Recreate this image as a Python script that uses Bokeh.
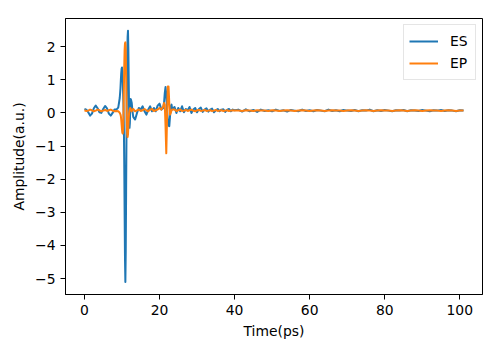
from bokeh.plotting import figure
from bokeh.models import ColumnDataSource, Range1d, FixedTicker, Legend, LegendItem
from bokeh.embed import file_html
from bokeh.resources import INLINE

# ---- data ----
time_ps = [
    0, 0.5, 1, 1.5, 2, 2.5, 3, 3.5, 4, 4.5, 5, 5.5, 6, 6.5, 7, 7.5, 8, 8.5, 9,
    9.2, 9.4,
    9.6, 9.7, 9.8, 9.9, 10.0, 10.1, 10.2, 10.3, 10.4, 10.5,
    10.6, 10.7, 10.8, 10.9, 11.0, 11.1, 11.2, 11.3, 11.4, 11.5,
    11.6, 11.7, 11.8, 11.9, 12.0, 12.1, 12.2, 12.3, 12.4,
    12.6, 12.8, 13.0,
    13.5, 14, 14.5, 15, 15.5, 16, 16.5, 17, 17.5, 18, 18.5, 19, 19.5, 20, 20.5, 21,
    21.2, 21.4, 21.6, 21.8, 22.0, 22.2, 22.4, 22.6, 22.8, 23.0, 23.2, 23.4,
    24, 24.5, 25, 25.5, 26, 26.5, 27, 27.5, 28, 28.5,
    29, 29.5, 30, 30.5, 31, 31.5, 32, 32.5, 33, 33.5,
    34, 34.5, 35, 35.5, 36, 36.5, 37, 37.5, 38, 38.5,
    39, 39.5, 40,
    41, 42, 43, 44, 45, 46, 47, 48, 49, 50,
    51, 52, 53, 54, 55, 56, 57, 58, 59, 60,
    61, 62, 63, 64, 65, 66, 67, 68, 69, 70,
    71, 72, 73, 74, 75, 76, 77, 78, 79, 80,
    81, 82, 83, 84, 85, 86, 87, 88, 89, 90,
    91, 92, 93, 94, 95, 96, 97, 98, 99, 100,
    101,
]

es_amp = [
    0.12, 0.10, 0.02, -0.08, -0.02, 0.14, 0.22, 0.14, 0.02, 0.00, 0.12, 0.21, 0.14, -0.02, -0.08, 0.00, 0.10, 0.10, 0.16,
    0.30, 0.45,
    0.75, 1.00, 1.20, 1.33, 1.37, 1.25, 1.00, 0.60, 0.20, -0.40,
    -1.50, -3.00, -4.40, -5.10, -4.20, -2.40, -0.60, 0.80, 1.80, 2.30,
    2.48, 1.90, 0.90, 0.00, -0.45, -0.30, 0.15, 0.42, 0.40,
    0.30, 0.05, -0.12,
    -0.20, 0.00, 0.15, 0.10, 0.20, 0.05, -0.05, 0.10, 0.20, 0.05, 0.15, 0.05, 0.22, 0.28, 0.10, 0.15,
    0.30, 0.60, 0.78, 0.55, 0.10, -0.20, -0.38, -0.40, -0.10, 0.20, 0.25, 0.10,
    0.18, 0.00, 0.15, 0.05, 0.20, 0.02, 0.12, 0.08, 0.18, 0.00,
    0.10, 0.15, 0.02, 0.12, 0.16, 0.03, 0.10, 0.14, 0.04, 0.10,
    0.13, 0.02, 0.08, 0.12, 0.05, 0.10, 0.11, 0.03, 0.09, 0.12,
    0.05, 0.10, 0.08,
    0.10, 0.04, 0.11, 0.05, 0.09, 0.03, 0.10, 0.06, 0.08, 0.05,
    0.10, 0.06, 0.08, 0.04, 0.09, 0.07, 0.05, 0.10, 0.06, 0.08,
    0.05, 0.09, 0.07, 0.05, 0.10, 0.06, 0.08, 0.05, 0.09, 0.07,
    0.06, 0.09, 0.05, 0.08, 0.07, 0.10, 0.05, 0.08, 0.06, 0.09,
    0.07, 0.05, 0.08, 0.07, 0.09, 0.05, 0.08, 0.07, 0.06, 0.09,
    0.07, 0.05, 0.08, 0.07, 0.09, 0.06, 0.08, 0.07, 0.05, 0.08,
    0.07,
]

ep_amp = [
    0.08, 0.06, 0.07, 0.10, 0.08, 0.05, 0.07, 0.10, 0.08, 0.05, 0.07, 0.09, 0.06, 0.08, 0.10, 0.07, 0.05, 0.06, 0.05,
    0.03, 0.00,
    -0.05, -0.10, -0.20, -0.35, -0.50, -0.60, -0.62, -0.50, 0.00, 0.70,
    1.40, 1.90, 2.10, 2.13, 1.90, 1.20, 0.40, -0.30, -0.65, -0.73,
    -0.65, -0.40, -0.15, 0.00, 0.08, 0.12, 0.15, 0.12, 0.08,
    0.05, 0.10, 0.12,
    0.05, 0.08, 0.10, 0.06, 0.08, 0.12, 0.08, 0.05, 0.10, 0.12, 0.06, 0.08, 0.10, 0.15, 0.10, 0.20,
    0.30, 0.25, -0.40, -1.22, -0.20, 0.80, 0.80, 0.30, -0.05, 0.00, 0.08, 0.10,
    0.10, 0.06, 0.08, 0.10, 0.06, 0.07, 0.09, 0.06, 0.08, 0.10,
    0.07, 0.05, 0.08, 0.09, 0.06, 0.07, 0.09, 0.06, 0.07, 0.08,
    0.06, 0.07, 0.09, 0.06, 0.07, 0.08, 0.06, 0.07, 0.08, 0.06,
    0.07, 0.08, 0.07,
    0.07, 0.06, 0.08, 0.07, 0.06, 0.08, 0.07, 0.07, 0.06, 0.08,
    0.07, 0.06, 0.07, 0.08, 0.07, 0.06, 0.07, 0.08, 0.07, 0.06,
    0.07, 0.08, 0.07, 0.06, 0.07, 0.08, 0.07, 0.07, 0.06, 0.07,
    0.08, 0.07, 0.06, 0.07, 0.08, 0.07, 0.06, 0.07, 0.08, 0.07,
    0.07, 0.06, 0.07, 0.08, 0.07, 0.06, 0.07, 0.08, 0.07, 0.06,
    0.07, 0.08, 0.07, 0.07, 0.06, 0.07, 0.08, 0.07, 0.06, 0.07,
    0.07,
]

series_names = ["ES", "EP"]
series_colors = ["#1f77b4", "#ff7f0e"]
x_ticks = [0, 20, 40, 60, 80, 100]
y_ticks = [-5, -4, -3, -2, -1, 0, 1, 2]

source = ColumnDataSource(dict(t=time_ps, es=es_amp, ep=ep_amp))

FONT = "DejaVu Sans"
FS = "13.9px"

p = figure(width=500, height=352, output_backend="svg", toolbar_location=None,
           x_range=Range1d(-5.05, 106.05), y_range=Range1d(-5.48, 2.85),
           min_border_left=65, min_border_right=18, min_border_top=18, min_border_bottom=58)
p.background_fill_color = "white"
p.border_fill_color = "white"
p.outline_line_color = "black"
p.outline_line_width = 1
p.xgrid.visible = False
p.ygrid.visible = False

r_es = p.line("t", "es", source=source, line_color=series_colors[0], line_width=2, line_join="round")
r_ep = p.line("t", "ep", source=source, line_color=series_colors[1], line_width=2, line_join="round")

for ax, ticks in ((p.xaxis[0], x_ticks), (p.yaxis[0], y_ticks)):
    ax.ticker = FixedTicker(ticks=ticks)
    ax.major_label_overrides = {t: (str(t) if t >= 0 else "\u2212" + str(-t)) for t in ticks}
    ax.minor_tick_line_color = None
    ax.major_tick_out = 5
    ax.major_tick_in = 0
    ax.major_tick_line_color = "black"
    ax.axis_line_color = "black"
    ax.major_label_text_font = FONT
    ax.major_label_text_font_size = FS
    ax.major_label_text_color = "black"
    ax.axis_label_text_font = FONT
    ax.axis_label_text_font_size = FS
    ax.axis_label_text_font_style = "normal"
    ax.axis_label_text_color = "black"
    ax.major_label_standoff = 5

p.xaxis.axis_label = "Time(ps)"
p.yaxis.axis_label = "Amplitude(a.u.)"
p.xaxis.axis_label_standoff = 5
p.yaxis.axis_label_standoff = 5

legend = Legend(items=[LegendItem(label=series_names[0], renderers=[r_es]),
                       LegendItem(label=series_names[1], renderers=[r_ep])],
                location="top_right")
legend.margin = 6
legend.padding = 5
legend.spacing = 0
legend.glyph_width = 29
legend.glyph_height = 22
legend.label_height = 22
legend.label_standoff = 12
legend.label_text_font = FONT
legend.label_text_font_size = FS
legend.label_text_color = "black"
legend.border_line_color = "#cccccc"
legend.border_line_width = 1
legend.background_fill_color = "white"
legend.background_fill_alpha = 0.8
p.add_layout(legend)

open("out.html", "w").write(file_html(p, INLINE))
